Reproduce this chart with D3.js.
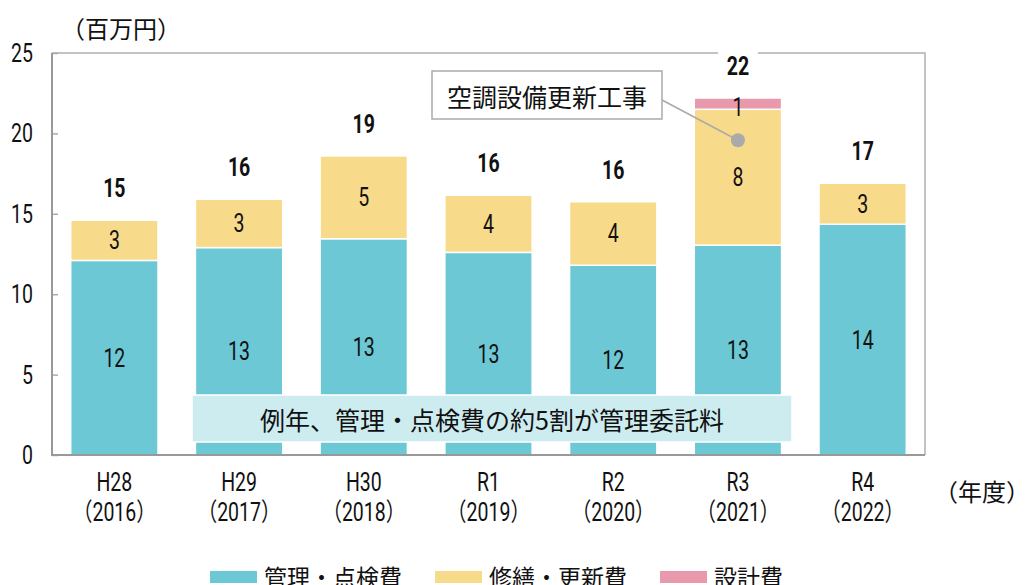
<!DOCTYPE html>
<html>
<head>
<meta charset="utf-8">
<script src="https://cdn.jsdelivr.net/npm/d3@7"></script>
<style>
  body { margin: 0; background: #fff; }
  svg { display: block; }
</style>
</head>
<body>
<script>
// data (百万円)
var years = ["H28", "H29", "H30", "R1", "R2", "R3", "R4"];
var yearsWestern = ["2016", "2017", "2018", "2019", "2020", "2021", "2022"];
var kanri = [12.1, 12.9, 13.45, 12.6, 11.8, 13.05, 14.35];   // 管理・点検費
var shuzen = [2.5, 3.0, 5.15, 3.55, 3.95, 8.45, 2.55];        // 修繕・更新費
var sekkei = [0, 0, 0, 0, 0, 0.7, 0];                          // 設計費
var kanriLabels = ["12", "13", "13", "13", "12", "13", "14"];
var shuzenLabels = ["3", "3", "5", "4", "4", "8", "3"];
var sekkeiLabels = ["", "", "", "", "", "1", ""];
var totalLabels = ["15", "16", "19", "16", "16", "22", "17"];
var yTicks = [0, 5, 10, 15, 20, 25];
var seriesNames = ["管理・点検費", "修繕・更新費", "設計費"];
var colors = ["#6cc8d5", "#f8da8b", "#e899ab"];

var numFont = "Roboto, 'Noto Sans CJK JP', sans-serif";
var jpFont = "'Noto Sans CJK JP', sans-serif";

var W = 1025, H = 585;
var plot = {left: 52, right: 925, top: 53, bottom: 455};

var svg = d3.select("body").append("svg")
    .attr("width", W)
    .attr("height", H);

// condensed-looking number text: roboto squeezed horizontally
function numText(parent, px, py, str, bold, anchor) {
  return parent.append("text")
    .attr("transform", "translate(" + px + "," + py + ") scale(0.78,1)")
    .attr("text-anchor", anchor || "middle")
    .attr("dominant-baseline", "central")
    .style("font-family", numFont)
    .style("font-size", "25px")
    .style("font-weight", bold ? "bold" : "normal")
    .attr("fill", "#111")
    .text(str);
}

var x = d3.scaleBand()
    .domain(years)
    .range([plot.left, plot.right])
    .paddingInner(0.3)
    .paddingOuter(0.15);

var y = d3.scaleLinear()
    .domain([0, 25])
    .range([plot.bottom, plot.top]);

// frame (top + right), gray
svg.append("path")
    .attr("d", "M" + plot.left + "," + plot.top + "H" + plot.right + "V" + plot.bottom)
    .attr("fill", "none")
    .attr("stroke", "#b0b0b0")
    .attr("stroke-width", 1.5);

// build stacked rows
var rows = years.map(function(d, i) {
  return {year: d, kanri: kanri[i], shuzen: shuzen[i], sekkei: sekkei[i], i: i};
});
var stack = d3.stack().keys(["kanri", "shuzen", "sekkei"]);
var layers = stack(rows);
var labelSets = [kanriLabels, shuzenLabels, sekkeiLabels];

layers.forEach(function(layer, k) {
  var g = svg.append("g");
  g.selectAll("rect")
    .data(layer.filter(function(d) { return d[1] - d[0] > 0; }))
    .enter().append("rect")
    .attr("x", function(d) { return x(d.data.year); })
    .attr("width", x.bandwidth())
    .attr("y", function(d) { return y(d[1]); })
    .attr("height", function(d) { return y(d[0]) - y(d[1]); })
    .attr("fill", colors[k])
    .attr("stroke", "#fff")
    .attr("stroke-width", 1.5);
});

// note box over the teal bars
svg.append("rect")
    .attr("x", 192).attr("y", 395)
    .attr("width", 600).attr("height", 47)
    .attr("fill", "#cdecf0")
    .attr("stroke", "#fff")
    .attr("stroke-width", 1.5);
svg.append("text")
    .attr("x", 492).attr("y", 419)
    .attr("text-anchor", "middle")
    .attr("dominant-baseline", "central")
    .style("font-family", jpFont)
    .style("font-size", "25px")
    .attr("fill", "#111")
    .text("例年、管理・点検費の約5割が管理委託料");

// segment labels
layers.forEach(function(layer, k) {
  var g = svg.append("g");
  layer.forEach(function(d) {
    if (d[1] - d[0] <= 0) return;
    numText(g, x(d.data.year) + x.bandwidth() / 2,
      y((d[0] + d[1]) / 2) + (k == 2 ? 3 : 0), labelSets[k][d.data.i], false);
  });
});

// totals, with a white patch so the frame is broken behind them
var totals = layers[2];
var tg = svg.append("g");
totals.forEach(function(d) {
  var cx = x(d.data.year) + x.bandwidth() / 2;
  tg.append("rect")
    .attr("x", cx - 20)
    .attr("y", y(d[1]) - 46)
    .attr("width", 40)
    .attr("height", 28)
    .attr("fill", "#fff");
  numText(tg, cx, y(d[1]) - 32, totalLabels[d.data.i], true);
});

// y axis
var yAxis = svg.append("g")
    .attr("transform", "translate(" + plot.left + ",0)")
    .call(d3.axisRight(y).tickValues(yTicks).tickSize(6).tickFormat(""));
yAxis.select(".domain").remove();
yAxis.selectAll(".tick line").attr("stroke", "#aaa").attr("stroke-width", 1.5);
var yl = svg.append("g");
yTicks.forEach(function(t) {
  numText(yl, 33, y(t), String(t), false, "end");
});

// left + bottom axis lines
svg.append("path")
    .attr("d", "M" + plot.left + "," + plot.top + "V" + plot.bottom + "H" + plot.right)
    .attr("fill", "none")
    .attr("stroke", "#999")
    .attr("stroke-width", 2);

// x labels
var xl = svg.append("g");
years.forEach(function(d, i) {
  var cx = x(d) + x.bandwidth() / 2;
  numText(xl, cx, 482, d, false);
  numText(xl, cx, 512, "（" + yearsWestern[i] + "）", false);
});

// unit labels
svg.append("text")
    .attr("x", 121).attr("y", 27)
    .attr("text-anchor", "middle")
    .attr("dominant-baseline", "central")
    .style("font-family", jpFont)
    .style("font-size", "24px")
    .attr("fill", "#111")
    .text("（百万円）");
svg.append("text")
    .attr("x", 982).attr("y", 490)
    .attr("text-anchor", "middle")
    .attr("dominant-baseline", "central")
    .style("font-family", jpFont)
    .style("font-size", "24px")
    .attr("fill", "#111")
    .text("（年度）");

// callout: 空調設備更新工事
var r3 = layers[1][5];
var dotX = x("R3") + x.bandwidth() / 2, dotY = y(r3[1]) + 31;
svg.append("line")
    .attr("x1", 662).attr("y1", 100)
    .attr("x2", dotX).attr("y2", dotY)
    .attr("stroke", "#aaa")
    .attr("stroke-width", 1.5);
svg.append("circle")
    .attr("cx", dotX).attr("cy", dotY)
    .attr("r", 7)
    .attr("fill", "#aaa");
svg.append("rect")
    .attr("x", 432).attr("y", 71)
    .attr("width", 230).attr("height", 48)
    .attr("fill", "#fff")
    .attr("stroke", "#aaa")
    .attr("stroke-width", 1.5);
svg.append("text")
    .attr("x", 547).attr("y", 96)
    .attr("text-anchor", "middle")
    .attr("dominant-baseline", "central")
    .style("font-family", jpFont)
    .style("font-size", "25px")
    .attr("fill", "#111")
    .text("空調設備更新工事");

// legend
var legendX = [210, 435, 660];
var lg = svg.append("g").selectAll("g")
    .data(seriesNames)
    .enter().append("g")
    .attr("transform", function(d, i) { return "translate(" + legendX[i] + ",571)"; });
lg.append("rect")
    .attr("width", 47).attr("height", 12)
    .attr("fill", function(d, i) { return colors[i]; });
lg.append("text")
    .attr("x", 54).attr("y", 5)
    .attr("dominant-baseline", "central")
    .style("font-family", jpFont)
    .style("font-size", "23px")
    .attr("fill", "#111")
    .text(function(d) { return d; });
</script>
</body>
</html>
